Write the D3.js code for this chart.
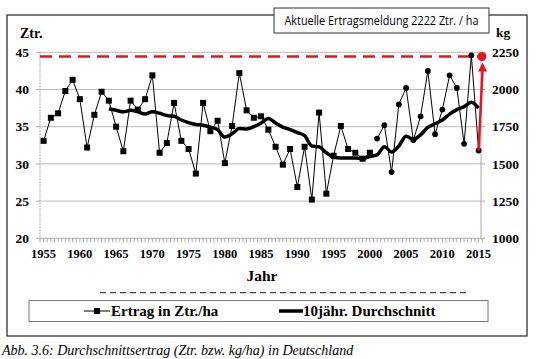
<!DOCTYPE html>
<html><head><meta charset="utf-8">
<script src="https://cdn.jsdelivr.net/npm/d3@7/dist/d3.min.js"></script>
<style>body{margin:0;background:#fff}svg{display:block}</style>
</head><body>
<script>
const years = d3.range(1955, 2016);
const ertrag1 = [33.1,36.2,36.8,39.8,41.3,38.7,32.2,36.6,39.7,38.5,35.0,31.7,38.5,37.3,38.7,41.9,31.5,32.8,38.2,33.1,32.0,28.7,38.2,34.4,35.8,30.1,35.1,42.2,37.2,36.2,36.4,34.6,32.3,29.9,32.0,26.9,32.3,25.2,36.9,26.0,31.1,35.1,32.0,31.5,30.7,31.5]; // 1955-2000 (squares)
const ertrag2 = [33.4,35.2,28.9,38.0,40.2,33.2,36.4,42.5,34.0,37.3,41.9,40.2,32.7,44.6,31.8]; // 2001-2015 (circles)
const avgYears = d3.range(1964, 2016);
const avg10 = [37.4,37.2,37.0,37.2,37.0,36.7,37.0,36.8,36.5,36.4,35.9,35.55,35.3,35.2,34.95,34.6,33.6,34.05,34.75,34.7,35.0,35.5,36.1,35.5,34.95,34.6,34.2,33.8,32.4,32.3,31.5,30.9,30.8,30.8,30.8,30.7,31.0,31.2,32.3,31.6,32.4,33.7,33.3,33.9,34.9,35.4,35.9,36.7,37.3,37.7,38.3,37.5];
const aktuell = 44.44; // 2222 kg/ha
const leftTicks = [20,25,30,35,40,45];
const rightTicks = [1000,1250,1500,1750,2000,2250];
const xTicks = d3.range(1955, 2016, 5);

const W=540,H=359;
const SERIF="Liberation Serif";
const SANS="Open Sans";
const svg=d3.select("body").append("svg").attr("width",W).attr("height",H);

// outer frame
svg.append("rect").attr("x",7).attr("y",15).attr("width",520).attr("height",321)
  .attr("fill","none").attr("stroke","#333").attr("stroke-width",1.3);

const x=d3.scaleLinear().domain([1955,2015]).range([43.6,478.6]);
const y=d3.scaleLinear().domain([20,45]).range([238.3,52.3]);
const yR=d3.scaleLinear().domain([1000,2250]).range([238.3,52.3]);
const xL=40, xR=481;

// gridlines
svg.append("g").selectAll("line").data(leftTicks.slice(1)).join("line")
  .attr("x1",xL).attr("x2",xR).attr("y1",d=>y(d)).attr("y2",d=>y(d))
  .attr("stroke","#bbb").attr("stroke-width",1);

// axes lines
svg.append("line").attr("x1",xL).attr("x2",xL).attr("y1",y(45)).attr("y2",y(20)+1).attr("stroke","#aaa").attr("stroke-dasharray","2,1");
svg.append("line").attr("x1",xR).attr("x2",xR).attr("y1",y(45)).attr("y2",y(20)+1).attr("stroke","#aaa");
svg.append("line").attr("x1",xL).attr("x2",xR).attr("y1",y(20)).attr("y2",y(20)).attr("stroke","#aaa");

// x minor ticks
svg.append("g").selectAll("line").data(d3.range(1954.5,2015.6,0.5)).join("line")
  .attr("x1",d=>x(d)).attr("x2",d=>x(d)).attr("y1",y(20)).attr("y2",y(20)+4)
  .attr("stroke","#aaa");
// left/right ticks
svg.append("g").selectAll("line").data(leftTicks).join("line")
  .attr("x1",xL-4).attr("x2",xL).attr("y1",d=>y(d)).attr("y2",d=>y(d)).attr("stroke","#aaa");
svg.append("g").selectAll("line").data(rightTicks).join("line")
  .attr("x1",xR).attr("x2",xR+4).attr("y1",d=>yR(d)).attr("y2",d=>yR(d)).attr("stroke","#aaa");

// tick labels
svg.append("g").selectAll("text").data(leftTicks).join("text").attr("font-family",SERIF)
  .attr("x",29).attr("y",d=>y(d)).attr("dy","0.35em").attr("text-anchor","end")
  .attr("font-weight","bold").attr("font-size",13.5).text(d=>d);
svg.append("g").selectAll("text").data(rightTicks).join("text").attr("font-family",SERIF)
  .attr("x",492).attr("y",d=>yR(d)).attr("dy","0.35em").attr("text-anchor","start")
  .attr("font-weight","bold").attr("font-size",13.5).text(d=>d);
svg.append("g").selectAll("text").data(xTicks).join("text").attr("font-family",SERIF)
  .attr("x",d=>x(d)).attr("y",253.5).attr("dy","0.35em").attr("text-anchor","middle")
  .attr("font-weight","bold").attr("font-size",12.5).text(d=>d);

svg.append("text").attr("font-family",SERIF).attr("x",20).attr("y",33).attr("dy","0.35em")
  .attr("font-weight","bold").attr("font-size",14).text("Ztr.");
svg.append("text").attr("font-family",SERIF).attr("x",496).attr("y",32).attr("dy","0.35em")
  .attr("font-weight","bold").attr("font-size",13.5).text("kg");
svg.append("text").attr("font-family",SERIF).attr("x",262).attr("y",276).attr("dy","0.35em").attr("text-anchor","middle")
  .attr("font-weight","bold").attr("font-size",15.5).text("Jahr");

// red dashed reference line
svg.append("line").attr("x1",xL).attr("x2",482).attr("y1",y(aktuell)).attr("y2",y(aktuell))
  .attr("stroke","#e8141c").attr("stroke-width",2.5).attr("stroke-dasharray","12,7");

// data lines
const line=d3.line().x(d=>x(d[0])).y(d=>y(d[1]));
const s1=ertrag1.map((v,i)=>[years[i],v]);
const s2=ertrag2.map((v,i)=>[2001+i,v]);
svg.append("path").attr("d",line(s1)).attr("fill","none").attr("stroke","#000").attr("stroke-width",1);
svg.append("path").attr("d",line(s2)).attr("fill","none").attr("stroke","#000").attr("stroke-width",1);

// 10-year avg
const avgLine=d3.line().x(d=>x(d[0])).y(d=>y(d[1])).curve(d3.curveMonotoneX);
svg.append("path").attr("d",avgLine(avg10.map((v,i)=>[avgYears[i],v])))
  .attr("fill","none").attr("stroke","#000").attr("stroke-width",3.5).attr("stroke-linejoin","round");

// markers
svg.append("g").selectAll("rect").data(s1).join("rect")
  .attr("x",d=>x(d[0])-3).attr("y",d=>y(d[1])-3).attr("width",6).attr("height",6).attr("fill","#000");
svg.append("g").selectAll("circle").data(s2).join("circle")
  .attr("cx",d=>x(d[0])).attr("cy",d=>y(d[1])).attr("r",2.9).attr("fill","#000");

// red arrow to current value
const last=s2[s2.length-1];
const tipX=x(2015.55), tipY=y(aktuell)+6;
svg.append("line").attr("x1",x(last[0])).attr("y1",y(last[1])).attr("x2",tipX).attr("y2",tipY+6)
  .attr("stroke","#e8141c").attr("stroke-width",2.5);
svg.append("path").attr("d",`M${tipX},${tipY} L${tipX-4.5},${tipY+9} L${tipX+4.5},${tipY+9} Z`).attr("fill","#e8141c");
svg.append("circle").attr("cx",x(2015.45)).attr("cy",y(aktuell)).attr("r",4.5).attr("fill","#e8141c");

// title box
svg.append("rect").attr("x",274).attr("y",8).attr("width",215).attr("height",25)
  .attr("fill","#fff").attr("stroke","#333").attr("stroke-width",1);
svg.append("text").attr("font-family",SANS).attr("x",381.5).attr("y",21).attr("dy","0.35em").attr("text-anchor","middle")
  .attr("font-size",12.5)
  .attr("textLength",194).attr("lengthAdjust","spacingAndGlyphs")
  .text("Aktuelle Ertragsmeldung 2222 Ztr. / ha");

// dashed separator
svg.append("line").attr("x1",100).attr("x2",467).attr("y1",292.7).attr("y2",292.7)
  .attr("stroke","#444").attr("stroke-width",1.2).attr("stroke-dasharray","6,4");

// legend
svg.append("rect").attr("x",29).attr("y",300.5).attr("width",459).attr("height",21)
  .attr("fill","#fff").attr("stroke","#777").attr("stroke-width",1);
svg.append("line").attr("x1",84).attr("x2",110).attr("y1",311).attr("y2",311).attr("stroke","#000").attr("stroke-width",1);
svg.append("rect").attr("x",94).attr("y",308).attr("width",6).attr("height",6).attr("fill","#000");
svg.append("text").attr("font-family",SERIF).attr("x",111).attr("y",311).attr("dy","0.35em")
  .attr("font-weight","bold").attr("font-size",15).text("Ertrag in Ztr./ha");
svg.append("line").attr("x1",279).attr("x2",303).attr("y1",311).attr("y2",311).attr("stroke","#000").attr("stroke-width",3.5);
svg.append("text").attr("font-family",SERIF).attr("x",303).attr("y",311).attr("dy","0.35em")
  .attr("font-weight","bold").attr("font-size",15).text("10jähr. Durchschnitt");

// caption
svg.append("text").attr("font-family",SERIF).attr("x",2).attr("y",350).attr("dy","0.35em")
  .attr("font-style","italic").attr("font-size",14).text("Abb. 3.6: Durchschnittsertrag (Ztr. bzw. kg/ha) in Deutschland");
</script>
</body></html>
